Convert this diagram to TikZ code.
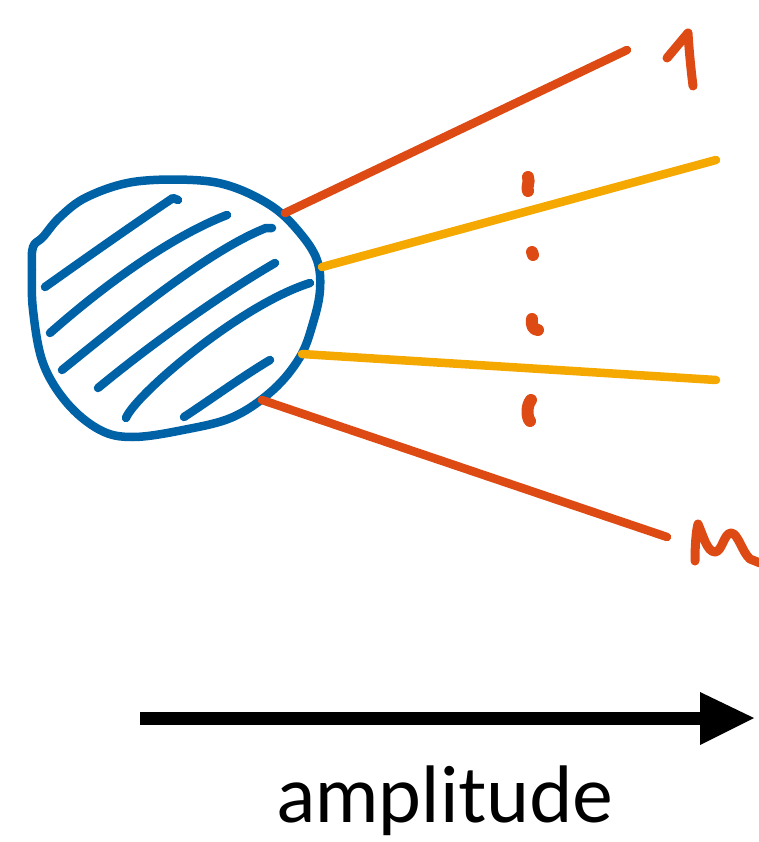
\documentclass[tikz,border=0pt]{standalone}
\usepackage{fontspec}
\setmainfont{Lato}
\definecolor{blobblue}{RGB}{0,98,166}
\definecolor{legred}{RGB}{221,74,20}
\definecolor{legyellow}{RGB}{245,168,0}
\tikzset{
  pen/.style={line width=8.5pt, line cap=round, line join=round},
  blobpen/.style={pen, draw=blobblue},
  redleg/.style={pen, draw=legred},
  yellowleg/.style={pen, draw=legyellow},
  handpen/.style={line width=9pt, line cap=round, line join=round, draw=legred},
  dotpen/.style={line width=12pt, line cap=round, line join=round, draw=legred},
}
\begin{document}
\begin{tikzpicture}[x=1pt,y=-1pt]
\useasboundingbox (0,0) rectangle (758,842);
% blob outline
\draw[blobpen] plot[smooth cycle, tension=0.6] coordinates {
 (33,247) (43,237) (60,217) (87,197) (133,182) (193,180) (233,187) (273,207)
 (300,233) (317,260) (320,290) (313,323) (300,357) (273,390) (233,417)
 (183,430) (133,437) (100,430) (67,403) (43,363) (33,310) (32,270)};
% hatching
\draw[blobpen] (45,287) .. controls (90,255) and (140,220) .. (173,198) -- (178,200);
\draw[blobpen] (50,333) .. controls (110,280) and (175,235) .. (227,215);
\draw[blobpen] (62,370) .. controls (130,315) and (210,250) .. (266,228) -- (272,228);
\draw[blobpen] (98,388) .. controls (150,345) and (220,295) .. (275,263);
\draw[blobpen] (126,418) .. controls (135,395) and (240,305) .. (310,283);
\draw[blobpen] (184,417) .. controls (210,400) and (240,378) .. (270,360);
% leg ends
\coordinate (r1a) at (285,213); \coordinate (r1b) at (627,50);
\coordinate (y1a) at (322,267); \coordinate (y1b) at (716,160);
\coordinate (y2a) at (302,354); \coordinate (y2b) at (716,380);
\coordinate (r2a) at (262,400); \coordinate (r2b) at (667,537);
\draw[redleg] (r1a) -- (r1b);
\draw[yellowleg] (y1a) -- (y1b);
\draw[yellowleg] (y2a) -- (y2b);
\draw[redleg] (r2a) -- (r2b);
% label 1
\draw[handpen] (667,58) -- (688,33) .. controls (689,50) and (691,70) .. (693,86);
% label n
\draw[handpen] (695,561) .. controls (695,545) and (696,532) .. (698,524)
  .. controls (703,535) and (707,552) .. (715,552)
  .. controls (722,552) and (724,533) .. (731,533)
  .. controls (738,533) and (742,552) .. (750,559) -- (760,563);
% dots
\draw[dotpen] (528,177) .. controls (530,183) and (526,187) .. (528,191);
\draw[dotpen] (532,252) -- (533,255);
\draw[dotpen] (532,319) .. controls (531,325) and (533,330) .. (538,330);
\draw[dotpen] (531,400) .. controls (526,406) and (527,418) .. (530,421);
% arrow
\coordinate (aS) at (140,718);
\coordinate (aE) at (702,718);
\draw[line width=13pt] (aS) -- (aE);
\fill (700,692) -- (754,718) -- (700,745) -- cycle;
\node[font=\fontsize{77}{88}\selectfont, anchor=base] (lbl) at (445,822) {amplitude};
\end{tikzpicture}
\end{document}
